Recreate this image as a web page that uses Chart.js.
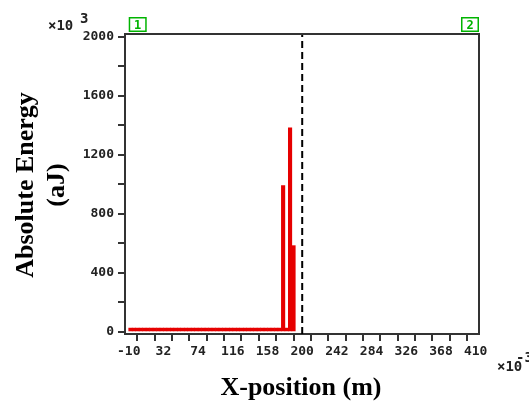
<!DOCTYPE html>
<html><head><meta charset="utf-8">
<script src="https://cdn.jsdelivr.net/npm/chart.js@4/dist/chart.umd.min.js"></script>
<style>html,body{margin:0;padding:0;background:#fff;overflow:hidden}#wrap{width:529px;height:401px;}</style>
</head><body><div id="wrap"><canvas id="c" width="529" height="401"></canvas></div>
<script>
// X-position bin centres (x10^-3 m)
const binCenters = [-7.9,-3.7,0.5,4.7,8.9,13.1,17.3,21.5,25.7,29.9,34.1,38.3,42.5,46.7,50.9,55.1,59.3,63.5,67.7,71.9,76.1,80.3,84.5,88.7,92.9,97.1,101.3,105.5,109.7,113.9,118.1,122.3,126.5,130.7,134.9,139.1,143.3,147.5,151.7,155.9,160.1,164.3,168.5,172.7,176.9,181.1,185.3,189.5];
// Absolute energy (x10^3 aJ)
const energy = [26,26,26,26,26,26,26,26,26,26,26,26,26,26,26,26,26,26,26,26,26,26,26,26,26,26,26,26,26,26,26,26,26,26,26,26,26,26,26,26,26,26,26,26,992,26,1383,585];
const markerX = 200;
const xTickValues = [-10,11,32,53,74,95,116,137,158,179,200,221,242,263,284,305,326,347,368,389,410];
const xLabelValues = [-10,32,74,116,158,200,242,284,326,368,410];
const yTickValues = [0,200,400,600,800,1000,1200,1400,1600,1800,2000];
const yLabelValues = [0,400,800,1200,1600,2000];
const cursorPositions = [-10,410];
const cursorLabels = ['1','2'];
const xTitle = 'X-position (m)';
const yTitle = ['Absolute Energy','(aJ)'];
const xMin = -14.5, xMax = 414, yMin = -14, yMax = 2020;

const MONO = '"DejaVu Sans Mono", monospace';
const SERIF = '"Liberation Serif", "Times New Roman", serif';
const AXC = '#333333';

const overlay = {
  id:'overlay',
  afterDraw(chart){
    const ctx = chart.ctx, a = chart.chartArea;
    const xs = chart.scales.x;
    ctx.save();
    // frame top & right
    ctx.strokeStyle = AXC; ctx.lineWidth = 2;
    ctx.beginPath();
    ctx.moveTo(a.left, a.top); ctx.lineTo(a.right, a.top); ctx.lineTo(a.right, a.bottom);
    ctx.stroke();
    // cursor boxes
    ctx.font = 'bold 12px ' + MONO;
    ctx.textAlign='center'; ctx.textBaseline='middle';
    cursorPositions.forEach((v,i)=>{
      const w = 18, h = 15;
      let left = xs.getPixelForValue(v);
      if (i === 1) left = a.right - w;
      const top = a.top - h - 2;
      ctx.fillStyle='#fff'; ctx.fillRect(left, top, w, h);
      ctx.strokeStyle='#00b400'; ctx.lineWidth=1.5; ctx.strokeRect(left+0.75, top+0.75, w-1.5, h-1.5);
      ctx.fillStyle='#00b400'; ctx.fillText(cursorLabels[i], left+w/2, top+h/2+1);
    });
    // exponent labels
    ctx.fillStyle='#222';
    ctx.textAlign='left'; ctx.textBaseline='alphabetic';
    ctx.font = 'bold 14px ' + MONO;
    ctx.fillText('\u00d710', 48, 30);
    ctx.fillText('\u00d710', 497, 371);
    ctx.fillText('3', 80, 23);
    ctx.fillText('-3', 516, 362);
    // titles
    ctx.fillStyle='#000';
    ctx.font = 'bold 26px ' + SERIF;
    ctx.textAlign='center';
    ctx.fillText(xTitle, 301, 395);
    ctx.translate(0, 185);
    ctx.rotate(-Math.PI/2);
    ctx.fillText(yTitle[0], 0, 33);
    ctx.fillText(yTitle[1], 0, 64);
    ctx.restore();
  }
};

new Chart(document.getElementById('c'), {
  type:'bar',
  data:{
    datasets:[
      {type:'bar', data: binCenters.map((x,i)=>({x, y: energy[i]})), backgroundColor:'#e60000', borderWidth:0, barPercentage:1, categoryPercentage:1, order:2},
      {type:'line', data:[{x:markerX,y:yMin},{x:markerX,y:yMax}], borderColor:'#000', borderWidth:2, borderDash:[7,4], pointRadius:0, order:1}
    ]
  },
  options:{
    responsive:false, animation:false, events:[],
    layout:{padding:{top:34,right:50,left:0,bottom:0}},
    plugins:{legend:{display:false}, tooltip:{enabled:false}},
    scales:{
      x:{type:'linear', min:xMin, max:xMax, offset:false,
        afterBuildTicks:s=>{s.ticks = xTickValues.map(v=>({value:v}));},
        afterFit:s=>{s.height = 67;},
        ticks:{autoSkip:false, maxRotation:0, minRotation:0, padding:3, color:'#222', font:{family:MONO, size:13, weight:'bold'},
          callback:v=> xLabelValues.includes(v) ? String(v) : ''},
        grid:{display:true, drawOnChartArea:false, drawTicks:true, tickLength:7, color:AXC, lineWidth:2},
        border:{display:true, color:AXC, width:2}
      },
      y:{type:'linear', min:yMin, max:yMax,
        afterBuildTicks:s=>{s.ticks = yTickValues.map(v=>({value:v}));},
        afterFit:s=>{s.width = 125;},
        ticks:{autoSkip:false, padding:4, color:'#222', font:{family:MONO, size:13, weight:'bold'},
          callback:v=> yLabelValues.includes(v) ? String(v) : ''},
        grid:{display:true, drawOnChartArea:false, drawTicks:true, tickLength:7, color:AXC, lineWidth:2},
        border:{display:true, color:AXC, width:2}
      }
    }
  },
  plugins:[overlay]
});
</script>
</body></html>
